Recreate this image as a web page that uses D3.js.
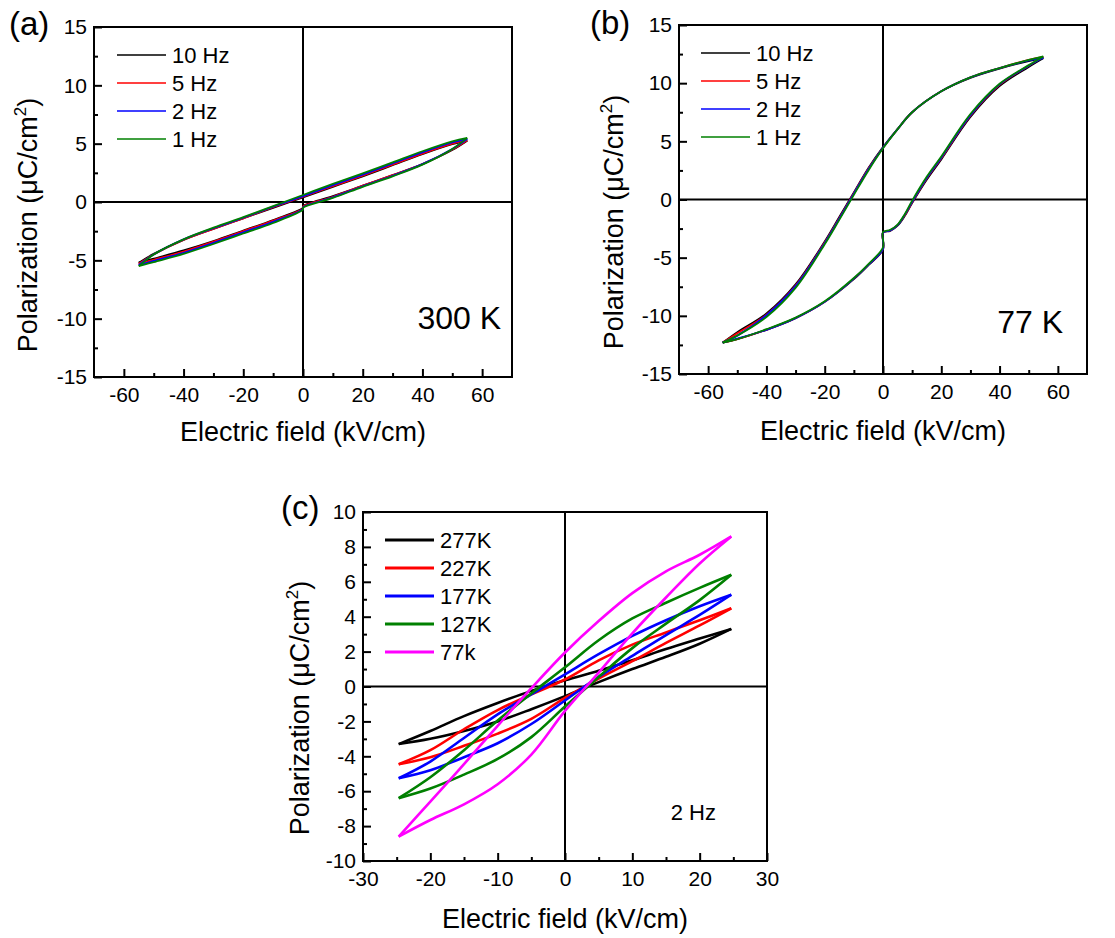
<!DOCTYPE html>
<html lang="en">
<head>
<meta charset="UTF-8">
<title>P-E hysteresis loops</title>
<script src="https://cdnjs.cloudflare.com/ajax/libs/d3/7.8.5/d3.min.js"></script>
<style>
  body { margin: 0; background: #fff; }
  #FIG text { font-family: "Liberation Sans", Arial, sans-serif; fill: #000; }
</style>
</head>
<body>
<svg id="FIG" width="1115" height="938"></svg>
<script>
// ---------- panel (a): 300 K, four frequencies ----------
var freqNames = ["10 Hz", "5 Hz", "2 Hz", "1 Hz"];
var freqColors = ["#000000", "#ff0000", "#0000ff", "#008000"];

// descending branch (+Emax -> -Emax) and ascending branch (-Emax -> +Emax)
var fieldA_down = [55, 50, 40, 30, 20, 10, 0, -10, -20, -30, -40, -50, -55];
var fieldA_up = [-55, -50, -40, -30, -20, -10, 0, 0, 10, 20, 30, 40, 50, 55];
var polA_down = [
  [5.25, 4.95, 4.1, 3.15, 2.2, 1.3, 0.4, -0.5, -1.4, -2.3, -3.25, -4.45, -5.2],
  [5.3, 5.0, 4.15, 3.2, 2.25, 1.35, 0.45, -0.45, -1.4, -2.3, -3.25, -4.5, -5.3],
  [5.4, 5.1, 4.25, 3.3, 2.35, 1.45, 0.5, -0.4, -1.35, -2.25, -3.2, -4.5, -5.4],
  [5.5, 5.2, 4.35, 3.4, 2.45, 1.55, 0.6, -0.35, -1.3, -2.2, -3.2, -4.5, -5.5]
];
var polA_up = [
  [-5.2, -4.85, -4.15, -3.35, -2.45, -1.55, -0.5, -0.35, 0.5, 1.4, 2.3, 3.25, 4.45, 5.25],
  [-5.3, -4.95, -4.25, -3.4, -2.5, -1.6, -0.55, -0.4, 0.45, 1.4, 2.3, 3.25, 4.5, 5.3],
  [-5.4, -5.05, -4.35, -3.5, -2.6, -1.7, -0.6, -0.45, 0.4, 1.35, 2.25, 3.25, 4.55, 5.4],
  [-5.5, -5.15, -4.45, -3.6, -2.7, -1.8, -0.65, -0.5, 0.35, 1.3, 2.2, 3.2, 4.55, 5.5]
];

// ---------- panel (b): 77 K, four frequencies ----------
var fieldB_down = [55, 50, 40, 30, 20, 10, 5, 0, -5, -10, -15, -20, -30, -40, -50, -55];
var fieldB_up = [-55, -50, -40, -30, -20, -10, -5, 0, 0, 2.5, 5, 7.5, 10, 15, 20, 30, 40, 50, 55];
var polB_down = [
  [12.15, 11.9, 11.25, 10.45, 9.3, 7.5, 6.05, 4.5, 2.7, 0.6, -1.5, -3.6, -7.3, -9.8, -11.4, -12.3],
  [12.25, 12.0, 11.3, 10.5, 9.3, 7.5, 6.05, 4.45, 2.65, 0.55, -1.6, -3.7, -7.4, -9.9, -11.5, -12.3],
  [12.2, 11.95, 11.3, 10.5, 9.3, 7.5, 6.05, 4.45, 2.6, 0.5, -1.65, -3.75, -7.45, -9.95, -11.7, -12.3],
  [12.3, 12.0, 11.3, 10.5, 9.3, 7.5, 6.05, 4.4, 2.5, 0.4, -1.75, -3.85, -7.6, -10.1, -11.7, -12.3]
];
var polB_up = [
  [-12.3, -12.0, -11.2, -10.2, -8.8, -6.85, -5.65, -4.3, -2.85, -2.7, -2.25, -1.4, -0.3, 1.7, 3.45, 7.1, 9.75, 11.4, 12.15],
  [-12.3, -12.0, -11.2, -10.2, -8.8, -6.8, -5.6, -4.25, -2.85, -2.65, -2.2, -1.35, -0.25, 1.8, 3.55, 7.2, 9.85, 11.5, 12.25],
  [-12.3, -11.95, -11.2, -10.2, -8.8, -6.8, -5.6, -4.25, -2.85, -2.65, -2.2, -1.3, -0.2, 1.85, 3.6, 7.25, 9.9, 11.5, 12.2],
  [-12.3, -12.0, -11.15, -10.15, -8.75, -6.75, -5.55, -4.1, -2.8, -2.6, -2.15, -1.25, -0.1, 1.95, 3.7, 7.35, 9.95, 11.55, 12.3]
];

// ---------- panel (c): 2 Hz, five temperatures ----------
var tempNames = ["277K", "227K", "177K", "127K", "77k"];
var tempColors = ["#000000", "#ff0000", "#0000ff", "#008000", "#ff00ff"];
var fieldC_down = [24.7, 20, 15, 10, 5, 0, -5, -10, -15, -20, -24.7];
var fieldC_up = [-24.7, -20, -15, -10, -5, 0, 5, 10, 15, 20, 24.7];
var polC_down = [
  [3.3, 2.75, 2.15, 1.5, 0.9, 0.36, -0.25, -0.95, -1.7, -2.55, -3.3],
  [4.48, 3.8, 3.1, 2.4, 1.5, 0.4, -0.45, -1.35, -2.45, -3.65, -4.46],
  [5.26, 4.6, 3.8, 2.9, 1.85, 0.7, -0.45, -1.6, -2.95, -4.3, -5.26],
  [6.4, 5.65, 4.8, 3.9, 2.65, 1.1, -0.4, -1.95, -3.65, -5.2, -6.4],
  [8.6, 7.55, 6.6, 5.35, 3.75, 1.95, -0.1, -2.25, -4.45, -6.6, -8.6]
];
var polC_up = [
  [-3.3, -3.0, -2.55, -2.0, -1.3, -0.55, 0.25, 1.0, 1.7, 2.45, 3.3],
  [-4.46, -4.05, -3.4, -2.7, -1.85, -0.65, 0.45, 1.45, 2.5, 3.5, 4.48],
  [-5.26, -4.8, -4.05, -3.25, -2.15, -0.8, 0.55, 1.75, 2.95, 4.1, 5.26],
  [-6.4, -5.85, -5.05, -4.15, -2.9, -1.15, 0.55, 2.2, 3.6, 4.95, 6.4],
  [-8.6, -7.65, -6.75, -5.6, -3.9, -1.4, 0.8, 3.05, 5.1, 7.05, 8.6]
];

// axis ticks
var ticksAB_xMajor = [-60, -40, -20, 0, 20, 40, 60];
var ticksAB_xMinor = [-50, -30, -10, 10, 30, 50];
var ticksAB_yMajor = [-15, -10, -5, 0, 5, 10, 15];
var ticksAB_yMinor = [-12.5, -7.5, -2.5, 2.5, 7.5, 12.5];
var ticksC_xMajor = [-30, -20, -10, 0, 10, 20, 30];
var ticksC_xMinor = [-25, -15, -5, 5, 15, 25];
var ticksC_yMajor = [-10, -8, -6, -4, -2, 0, 2, 4, 6, 8, 10];
var ticksC_yMinor = [-9, -7, -5, -3, -1, 1, 3, 5, 7, 9];

var svg = d3.select("#FIG");

function drawPanel(o) {
  var g = svg.append("g");
  var x = d3.scaleLinear().domain(o.xDomain).range([o.left, o.right]);
  var y = d3.scaleLinear().domain(o.yDomain).range([o.bottom, o.top]);

  // zero lines
  g.append("line")
    .attr("x1", x(0)).attr("x2", x(0)).attr("y1", o.top).attr("y2", o.bottom)
    .attr("stroke", "#000").attr("stroke-width", 2);
  g.append("line")
    .attr("x1", o.left).attr("x2", o.right).attr("y1", y(0)).attr("y2", y(0))
    .attr("stroke", "#000").attr("stroke-width", 2);

  // loops
  var line = d3.line()
    .x(function(d){ return x(d[0]); })
    .y(function(d){ return y(d[1]); })
    .curve(d3.curveCatmullRom.alpha(0.5));

  o.names.forEach(function(name, i){
    [d3.zip(o.eDown, o.pDown[i]), d3.zip(o.eUp, o.pUp[i])].forEach(function(pts){
      g.append("path")
        .attr("d", line(pts))
        .attr("fill", "none")
        .attr("stroke", o.colors[i])
        .attr("stroke-width", o.lineWidth)
        .attr("stroke-linejoin", "round");
    });
  });

  // axes, ticks pointing inward
  var fmt = function(d){ return String(d); };
  var xg = g.append("g").attr("transform", "translate(0," + o.bottom + ")");
  xg.call(d3.axisBottom(x).tickValues(o.xMajor).tickSize(-8).tickSizeOuter(0).tickPadding(10).tickFormat(fmt));
  xg.append("g").call(d3.axisBottom(x).tickValues(o.xMinor).tickSize(-4).tickSizeOuter(0).tickFormat(""));
  var yg = g.append("g").attr("transform", "translate(" + o.left + ",0)");
  yg.call(d3.axisLeft(y).tickValues(o.yMajor).tickSize(-8).tickSizeOuter(0).tickPadding(7).tickFormat(fmt));
  yg.append("g").call(d3.axisLeft(y).tickValues(o.yMinor).tickSize(-4).tickSizeOuter(0).tickFormat(""));
  g.selectAll(".domain").remove();
  g.selectAll(".tick line").attr("stroke", "#000").attr("stroke-width", 2);
  g.selectAll(".tick text").style("font-size", "21px").attr("fill", "#000");

  // frame
  g.append("rect")
    .attr("x", o.left).attr("y", o.top)
    .attr("width", o.right - o.left).attr("height", o.bottom - o.top)
    .attr("fill", "none").attr("stroke", "#000").attr("stroke-width", 2);

  // axis titles
  g.append("text")
    .attr("x", (o.left + o.right) / 2).attr("y", o.xTitleY)
    .attr("text-anchor", "middle").style("font-size", "27px")
    .text("Electric field (kV/cm)");
  var yt = g.append("text")
    .attr("transform", "translate(" + o.yTitleX + "," + o.yTitleY + ") rotate(-90)")
    .attr("text-anchor", "middle").style("font-size", "27px");
  yt.append("tspan").text("Polarization (\u03bcC/cm");
  yt.append("tspan").attr("dy", -11).style("font-size", "17px").text("2");
  yt.append("tspan").attr("dy", 11).text(")");

  // panel tag
  g.append("text").attr("x", o.tagX).attr("y", o.tagY).style("font-size", "33px").text(o.tag);

  // legend
  o.names.forEach(function(name, i){
    var ly = o.legY + i * 28;
    g.append("line")
      .attr("x1", o.legX).attr("x2", o.legX + 49).attr("y1", ly).attr("y2", ly)
      .attr("stroke", o.colors[i]).attr("stroke-width", o.legWidth);
    g.append("text")
      .attr("x", o.legX + 55).attr("y", ly + 8)
      .style("font-size", "22px").text(name);
  });

  // note
  g.append("text")
    .attr("x", o.noteX).attr("y", o.noteY)
    .attr("text-anchor", "end").style("font-size", o.noteSize)
    .text(o.note);
}

drawPanel({
  left: 94, right: 512, top: 27, bottom: 377,
  xDomain: [-70, 70], yDomain: [-15, 15],
  xMajor: ticksAB_xMajor, xMinor: ticksAB_xMinor, yMajor: ticksAB_yMajor, yMinor: ticksAB_yMinor,
  eDown: fieldA_down, eUp: fieldA_up, pDown: polA_down, pUp: polA_up,
  names: freqNames, colors: freqColors, lineWidth: 1.8, legWidth: 1.6,
  xTitleY: 441, yTitleX: 37, yTitleY: 225,
  tag: "(a)", tagX: 9, tagY: 35,
  legX: 117, legY: 55,
  note: "300 K", noteX: 501, noteY: 329, noteSize: "32px"
});

drawPanel({
  left: 679, right: 1087, top: 25, bottom: 374,
  xDomain: [-70, 70], yDomain: [-15, 15],
  xMajor: ticksAB_xMajor, xMinor: ticksAB_xMinor, yMajor: ticksAB_yMajor, yMinor: ticksAB_yMinor,
  eDown: fieldB_down, eUp: fieldB_up, pDown: polB_down, pUp: polB_up,
  names: freqNames, colors: freqColors, lineWidth: 1.8, legWidth: 1.6,
  xTitleY: 440, yTitleX: 623, yTitleY: 222,
  tag: "(b)", tagX: 590, tagY: 34,
  legX: 701, legY: 53,
  note: "77 K", noteX: 1063, noteY: 333, noteSize: "32px"
});

drawPanel({
  left: 363, right: 767, top: 512, bottom: 861,
  xDomain: [-30, 30], yDomain: [-10, 10],
  xMajor: ticksC_xMajor, xMinor: ticksC_xMinor, yMajor: ticksC_yMajor, yMinor: ticksC_yMinor,
  eDown: fieldC_down, eUp: fieldC_up, pDown: polC_down, pUp: polC_up,
  names: tempNames, colors: tempColors, lineWidth: 2.6, legWidth: 3,
  xTitleY: 928, yTitleX: 309, yTitleY: 708,
  tag: "(c)", tagX: 281, tagY: 519,
  legX: 385, legY: 540,
  note: "2 Hz", noteX: 716, noteY: 820, noteSize: "22px"
});
</script>
</body>
</html>
